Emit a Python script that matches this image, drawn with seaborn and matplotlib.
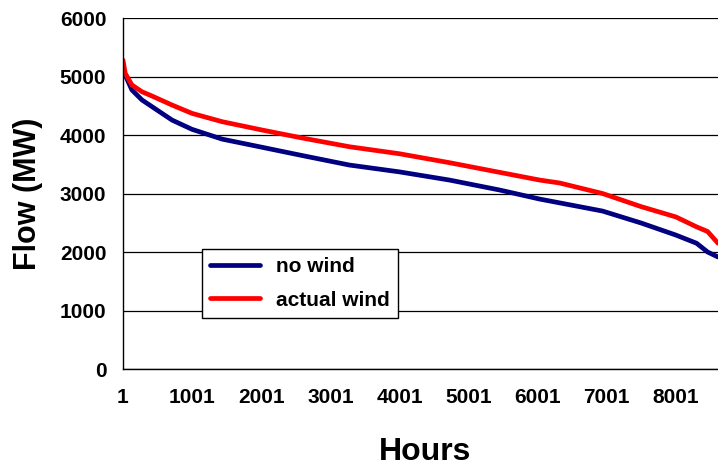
import matplotlib
matplotlib.use("Agg")
import matplotlib.pyplot as plt
import seaborn as sns
import pandas as pd

# Duration curve of line flow, sorted hourly values
hours = [1, 33, 130, 275, 420, 710, 1000, 1435, 2015, 2590, 3275, 4000, 4725,
         5450, 6030, 6319, 6940, 7500, 8000, 8300, 8460, 8610]
no_wind = [5060, 5025, 4770, 4600, 4485, 4256, 4097, 3930, 3790, 3650, 3487,
           3370, 3230, 3060, 2905, 2840, 2700, 2495, 2290, 2150, 2000, 1915]
actual_wind = [5280, 5055, 4855, 4740, 4667, 4513, 4370, 4228, 4085, 3950,
               3800, 3680, 3527, 3362, 3230, 3180, 3000, 2775, 2600, 2430,
               2350, 2150]

series_names = ["no wind", "actual wind"]
series_colors = ["#000080", "#FF0000"]
x_ticks = [1, 1001, 2001, 3001, 4001, 5001, 6001, 7001, 8001]
y_ticks = [0, 1000, 2000, 3000, 4000, 5000, 6000]

df = pd.concat([
    pd.DataFrame({"Hours": hours, "Flow": no_wind, "Case": series_names[0]}),
    pd.DataFrame({"Hours": hours, "Flow": actual_wind, "Case": series_names[1]}),
])

sns.set_style("white")
plt.rcParams["font.family"] = ["Liberation Sans", "DejaVu Sans"]
plt.rcParams["font.weight"] = "bold"
plt.rcParams["text.color"] = "#000000"
plt.rcParams["axes.labelcolor"] = "#000000"

fig = plt.figure(figsize=(7.18, 4.68), dpi=100)
ax = fig.add_axes([0.1713, 0.2115, 0.8287, 0.75])

sns.lineplot(data=df, x="Hours", y="Flow", hue="Case",
             palette=dict(zip(series_names, series_colors)),
             linewidth=3.4, ax=ax, sort=False)

ax.set_xlim(1, 8610)
ax.set_ylim(0, 6000)
ax.set_xticks(x_ticks)
ax.set_xticklabels([str(t) for t in x_ticks], fontsize=15, fontweight="bold")
ax.set_yticks(y_ticks)
ax.set_yticklabels([str(t) for t in y_ticks], fontsize=15, fontweight="bold")

ax.grid(axis="y", color="#000000", linewidth=0.9)
ax.grid(axis="x", visible=False)
ax.set_axisbelow(True)

for side in ["top", "right"]:
    ax.spines[side].set_visible(False)
for side in ["left", "bottom"]:
    ax.spines[side].set_color("#000000")
    ax.spines[side].set_linewidth(1.0)

ax.tick_params(axis="both", direction="out", length=5, width=1,
               color="#000000", labelcolor="#000000")
ax.tick_params(axis="x", pad=9)
ax.tick_params(axis="y", pad=7)

ax.set_xlabel("Hours", fontsize=23, fontweight="bold")
ax.set_ylabel("Flow (MW)", fontsize=22, fontweight="bold", labelpad=12)
ax.xaxis.set_label_coords(0.508, -0.195)

leg = ax.legend(loc="lower left", bbox_to_anchor=(0.133, 0.145),
                borderaxespad=0, frameon=True, fancybox=False,
                prop={"size": 15, "weight": "bold"},
                handlelength=2.4, handletextpad=0.75, labelspacing=0.7,
                borderpad=0.4)
leg.get_frame().set_edgecolor("#000000")
leg.get_frame().set_linewidth(1.0)
leg.get_frame().set_alpha(1.0)
for line in leg.get_lines():
    line.set_linewidth(3.4)
for txt in leg.get_texts():
    txt.set_color("#000000")

fig.savefig("out.png", dpi=100)
